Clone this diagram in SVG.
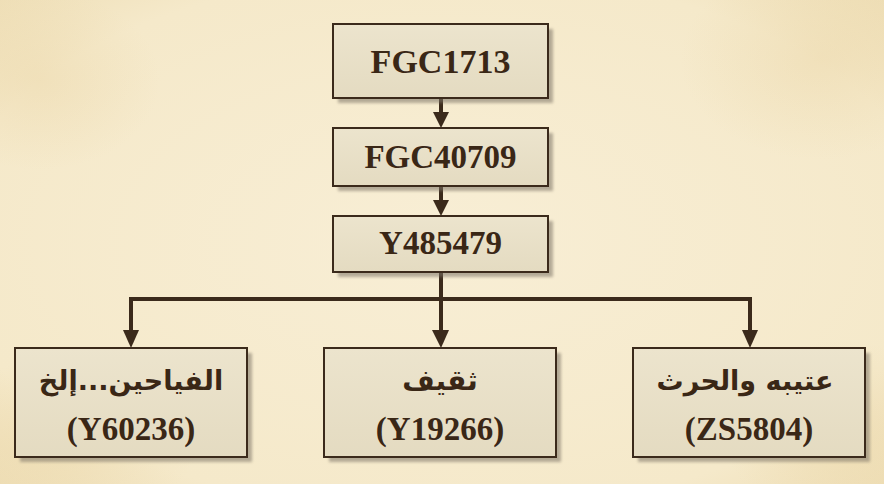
<svg xmlns="http://www.w3.org/2000/svg" width="884" height="484" viewBox="0 0 884 484">
<defs>
<radialGradient id="bg" cx="50%" cy="50%" r="75%">
<stop offset="0" stop-color="#f8eed5"/>
<stop offset="0.75" stop-color="#f5e9ca"/>
<stop offset="1" stop-color="#eddcb2"/>
</radialGradient>
<radialGradient id="stain1" cx="50%" cy="50%" r="50%">
<stop offset="0" stop-color="#e6cd97" stop-opacity="0.3"/>
<stop offset="1" stop-color="#e6cd97" stop-opacity="0"/>
</radialGradient>
<linearGradient id="boxfill" x1="0" y1="0" x2="0" y2="1">
<stop offset="0" stop-color="#ece4cd"/>
<stop offset="1" stop-color="#e4dbc1"/>
</linearGradient>
<filter id="sh" x="-10%" y="-10%" width="130%" height="140%">
<feGaussianBlur stdDeviation="1.5"/>
</filter>
</defs>
<style>
.box{fill:url(#boxfill);stroke:#3b2a1b;stroke-width:2}
.shadow{fill:#7d7566;opacity:0.55;filter:url(#sh)}
.t{font-family:"Liberation Serif","DejaVu Serif",serif;font-weight:bold;fill:#3a2716;text-anchor:middle}
.ar{font-family:"DejaVu Sans","Noto Sans",sans-serif;font-weight:bold;fill:#3a2716;text-anchor:middle;direction:rtl}
.line{stroke:#3b2a1b;stroke-width:4;fill:none}
.head{fill:#3b2a1b}
</style>
<rect width="884" height="484" fill="url(#bg)"/>
<ellipse cx="40" cy="80" rx="120" ry="90" fill="url(#stain1)"/>
<ellipse cx="820" cy="60" rx="140" ry="100" fill="url(#stain1)"/>
<ellipse cx="60" cy="440" rx="140" ry="80" fill="url(#stain1)"/>
<ellipse cx="840" cy="430" rx="120" ry="90" fill="url(#stain1)"/>

<g id="connectors">
<line class="line" x1="441" y1="98" x2="441" y2="114"/>
<polygon class="head" points="433,112 449,112 441,128"/>
<line class="line" x1="441" y1="186" x2="441" y2="202"/>
<polygon class="head" points="433,200 449,200 441,216"/>
<line class="line" x1="441" y1="272" x2="441" y2="332"/>
<polyline class="line" points="131,332 131,299 750,299 750,332"/>
<polygon class="head" points="123,330 139,330 131,348"/>
<polygon class="head" points="432,330 449,330 441,348"/>
<polygon class="head" points="742,330 758,330 750,348"/>
</g>

<g id="node-fgc1713">
<rect class="shadow" x="338" y="29" width="215" height="74"/>
<rect class="box" x="333" y="24" width="215" height="74"/>
<text class="t" x="440.5" y="73" font-size="34">FGC1713</text>
</g>
<g id="node-fgc40709">
<rect class="shadow" x="338" y="133" width="215" height="58"/>
<rect class="box" x="333" y="128" width="215" height="58"/>
<text class="t" x="440.5" y="168" font-size="33">FGC40709</text>
</g>
<g id="node-y485479">
<rect class="shadow" x="338" y="221" width="215" height="56"/>
<rect class="box" x="333" y="216" width="215" height="56"/>
<text class="t" x="440.5" y="254" font-size="33">Y485479</text>
</g>
<g id="node-y60236">
<rect class="shadow" x="20" y="353" width="232" height="109"/>
<rect class="box" x="15" y="348" width="232" height="109"/>
<text class="ar" x="131" y="390" font-size="27">الفياحين...إلخ</text>
<text class="t" x="131" y="440" font-size="33">(Y60236)</text>
</g>
<g id="node-y19266">
<rect class="shadow" x="329" y="353" width="232" height="109"/>
<rect class="box" x="324" y="348" width="232" height="109"/>
<text class="ar" x="440" y="390" font-size="28">ثقيف</text>
<text class="t" x="440" y="440" font-size="33">(Y19266)</text>
</g>
<g id="node-zs5804">
<rect class="shadow" x="638" y="353" width="232" height="109"/>
<rect class="box" x="633" y="348" width="232" height="109"/>
<text class="ar" x="745" y="390" font-size="27">عتيبه والحرث</text>
<text class="t" x="749" y="440" font-size="33">(ZS5804)</text>
</g>
</svg>
